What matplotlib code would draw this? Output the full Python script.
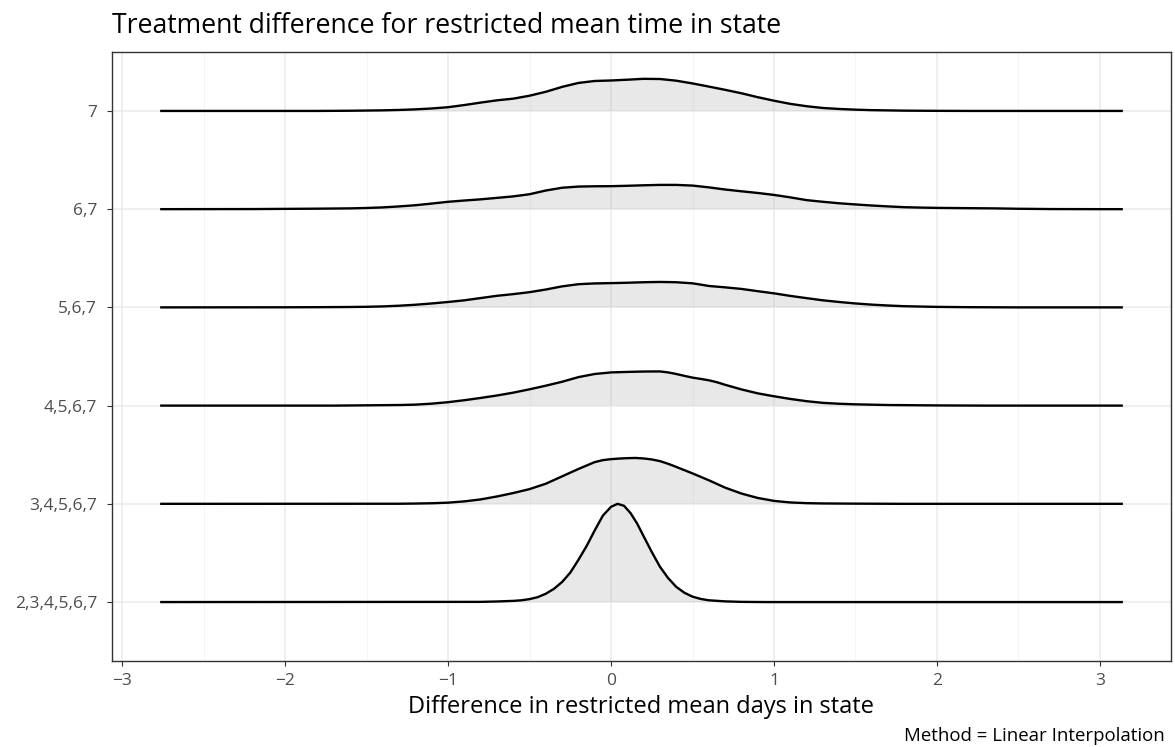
import matplotlib
matplotlib.use("Agg")
import matplotlib.pyplot as plt
import numpy as np

plt.rcParams['font.family'] = ['Open Sans', 'DejaVu Sans']

categories = ["2,3,4,5,6,7", "3,4,5,6,7", "4,5,6,7", "5,6,7", "6,7", "7"]

x_min, x_max = -2.767, 3.141

# ridge "2,3,4,5,6,7"
x_r2 = [x_min, -0.80, -0.70, -0.60, -0.55, -0.50, -0.45, -0.40, -0.35, -0.30, -0.25, -0.20,
        -0.15, -0.10, -0.05, 0.00, 0.04, 0.08, 0.12, 0.16, 0.20, 0.25, 0.30, 0.35, 0.40,
        0.45, 0.50, 0.55, 0.60, 0.70, 0.80, 0.95, x_max]
h_r2 = [0, 0.002, 0.006, 0.012, 0.018, 0.03, 0.05, 0.085, 0.135, 0.205, 0.30, 0.43,
        0.57, 0.73, 0.88, 0.97, 1.0, 0.98, 0.905, 0.80, 0.67, 0.51, 0.36, 0.245, 0.155,
        0.095, 0.055, 0.032, 0.018, 0.007, 0.002, 0, 0]

# ridge "3,4,5,6,7"
x_r3 = [x_min, -1.3, -1.2, -1.1, -1.0, -0.9, -0.8, -0.7, -0.6, -0.5, -0.4, -0.3, -0.2, -0.1,
        -0.05, 0.0, 0.05, 0.1, 0.15, 0.2, 0.25, 0.3, 0.35, 0.4, 0.5, 0.6, 0.7, 0.8, 0.9,
        1.0, 1.1, 1.2, 1.3, 1.5, 1.8, x_max]
h_r3 = [0, 0.001, 0.003, 0.006, 0.012, 0.025, 0.045, 0.075, 0.11, 0.15, 0.205, 0.28, 0.355,
        0.425, 0.445, 0.455, 0.461, 0.465, 0.467, 0.462, 0.452, 0.435, 0.408, 0.376, 0.31,
        0.24, 0.165, 0.105, 0.06, 0.03, 0.014, 0.007, 0.004, 0.002, 0, 0]

# ridge "4,5,6,7"
x_r4 = [x_min, -1.7, -1.5, -1.3, -1.2, -1.1, -1.0, -0.9, -0.8, -0.7, -0.6, -0.5, -0.4, -0.3,
        -0.2, -0.1, 0.0, 0.1, 0.2, 0.3, 0.35, 0.4, 0.45, 0.5, 0.55, 0.6, 0.65, 0.7, 0.8,
        0.9, 1.0, 1.1, 1.2, 1.3, 1.4, 1.5, 1.7, 2.0, 2.3, x_max]
h_r4 = [0, 0.0, 0.003, 0.006, 0.01, 0.02, 0.035, 0.055, 0.078, 0.103, 0.132, 0.166, 0.203,
        0.243, 0.29, 0.322, 0.338, 0.343, 0.347, 0.348, 0.338, 0.322, 0.303, 0.285, 0.272,
        0.258, 0.238, 0.212, 0.165, 0.125, 0.095, 0.068, 0.045, 0.028, 0.019, 0.013,
        0.006, 0.002, 0, 0]

# ridge "5,6,7"
x_r5 = [x_min, -2.0, -1.8, -1.6, -1.5, -1.4, -1.3, -1.2, -1.1, -1.0, -0.9, -0.8, -0.7, -0.6,
        -0.5, -0.4, -0.3, -0.2, -0.1, 0.0, 0.1, 0.2, 0.3, 0.4, 0.5, 0.55, 0.6, 0.7, 0.8,
        0.9, 1.0, 1.1, 1.2, 1.3, 1.4, 1.5, 1.6, 1.7, 1.8, 2.0, 2.2, 2.5, x_max]
h_r5 = [0, 0.001, 0.002, 0.004, 0.006, 0.01, 0.017, 0.027, 0.04, 0.055, 0.072, 0.095, 0.118,
        0.135, 0.155, 0.182, 0.214, 0.236, 0.244, 0.247, 0.251, 0.256, 0.259, 0.256, 0.245,
        0.232, 0.218, 0.204, 0.188, 0.165, 0.143, 0.117, 0.094, 0.072, 0.055, 0.04, 0.028,
        0.019, 0.012, 0.005, 0.002, 0, 0]

# ridge "6,7"
x_r6 = [x_min, -2.2, -2.0, -1.8, -1.6, -1.5, -1.4, -1.3, -1.2, -1.1, -1.0, -0.9, -0.8, -0.7,
        -0.6, -0.5, -0.4, -0.3, -0.2, -0.1, 0.0, 0.1, 0.2, 0.3, 0.4, 0.5, 0.6, 0.7, 0.8,
        0.9, 1.0, 1.1, 1.2, 1.3, 1.4, 1.5, 1.6, 1.7, 1.8, 1.9, 2.0, 2.2, 2.35, 2.5, 2.7,
        3.0, x_max]
h_r6 = [0, 0.001, 0.003, 0.005, 0.008, 0.012, 0.018, 0.028, 0.04, 0.057, 0.075, 0.088, 0.1,
        0.115, 0.13, 0.152, 0.19, 0.218, 0.23, 0.233, 0.234, 0.238, 0.243, 0.247, 0.247,
        0.24, 0.222, 0.2, 0.182, 0.165, 0.145, 0.12, 0.092, 0.075, 0.06, 0.048, 0.037,
        0.028, 0.02, 0.016, 0.013, 0.01, 0.008, 0.004, 0.001, 0, 0]

# ridge "7"
x_r7 = [x_min, -1.8, -1.6, -1.4, -1.3, -1.2, -1.1, -1.0, -0.9, -0.8, -0.7, -0.6, -0.5, -0.4,
        -0.3, -0.2, -0.1, 0.0, 0.1, 0.2, 0.3, 0.4, 0.5, 0.6, 0.7, 0.8, 0.9, 1.0, 1.1, 1.2,
        1.3, 1.4, 1.5, 1.6, 1.8, 2.0, 2.2, x_max]
h_r7 = [0, 0.0, 0.002, 0.006, 0.01, 0.016, 0.025, 0.038, 0.06, 0.085, 0.108, 0.125, 0.155,
        0.195, 0.245, 0.285, 0.305, 0.31, 0.318, 0.327, 0.325, 0.308, 0.28, 0.248, 0.215,
        0.18, 0.14, 0.104, 0.072, 0.048, 0.03, 0.02, 0.013, 0.008, 0.003, 0.001, 0, 0]

ridges = [(x_r2, h_r2), (x_r3, h_r3), (x_r4, h_r4), (x_r5, h_r5), (x_r6, h_r6), (x_r7, h_r7)]

fig = plt.figure(figsize=(11.75, 7.47), dpi=100)
ax = fig.add_axes([112/1175, 1 - 661/747, (1171-112)/1175, (661-52)/747])

span = x_max - x_min
ax.set_xlim(x_min - 0.05*span, x_max + 0.05*span)
ax.set_ylim(0.4, 6.6)

# grid
for v in np.arange(-3, 3.5, 1):
    ax.axvline(v, color='#EBEBEB', lw=1.1, zorder=0)
for v in np.arange(-2.5, 3.5, 1):
    ax.axvline(v, color='#F2F2F2', lw=0.6, zorder=0)
for i in range(len(categories)):
    ax.axhline(i + 1, color='#EBEBEB', lw=1.1, zorder=0)

# draw from top (back) to bottom (front)
for i in reversed(range(len(ridges))):
    xs, hs = ridges[i]
    base = i + 1
    ys = np.asarray(hs) + base
    ax.fill_between(xs, base, ys, facecolor='#B3B3B3', alpha=0.3, lw=0, zorder=2 + (6 - i))
    ax.plot(xs, ys, color='black', lw=1.7, zorder=2.5 + (6 - i),
            solid_capstyle='butt', solid_joinstyle='round')

ax.set_yticks(range(1, len(categories) + 1))
ax.set_yticklabels(categories)
ax.set_xticks([-3, -2, -1, 0, 1, 2, 3])
ax.set_xticklabels(['\u22123', '\u22122', '\u22121', '0', '1', '2', '3'])

ax.tick_params(axis='both', colors='#333333', length=3.8, width=0.8, labelsize=12.5,
               labelcolor='#4D4D4D')
ax.tick_params(axis='y', pad=7)
ax.tick_params(axis='x', pad=5)
for s in ax.spines.values():
    s.set_color('#333333')
    s.set_linewidth(1.0)

ax.set_xlabel('Difference in restricted mean days in state', fontsize=17, color='black', labelpad=4)
fig.text(112/1175, 1 - 26/747, 'Treatment difference for restricted mean time in state',
         fontsize=19.2, ha='left', va='center', color='black')
fig.text(1165/1175, 1 - 736/747, 'Method = Linear Interpolation', fontsize=13.4,
         ha='right', va='center', color='black')

fig.savefig('out.png', dpi=100)
